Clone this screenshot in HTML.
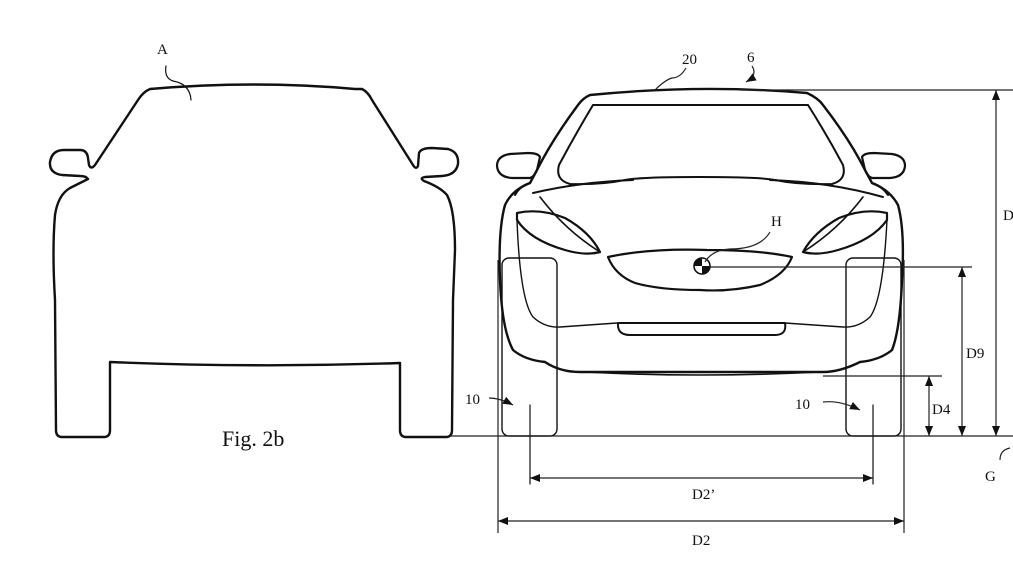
<!DOCTYPE html>
<html><head><meta charset="utf-8"><style>
html,body{margin:0;padding:0;background:#fff;}
svg{display:block;}
text{font-family:"Liberation Serif",serif;fill:#111;}
</style></head><body>
<svg width="1013" height="570" viewBox="0 0 1013 570" xmlns="http://www.w3.org/2000/svg">
<defs>
<marker id="ar" viewBox="0 0 10 10" refX="10" refY="5" markerWidth="10" markerHeight="10" markerUnits="userSpaceOnUse" orient="auto-start-reverse">
<path d="M0,1 L10,5 L0,9 z" fill="#111"/></marker>
</defs>
<g fill="none" stroke="#111" stroke-linecap="round" stroke-linejoin="round">
<path stroke-width="2.4" d="M150,89 Q255,80 355,89 L362,89 Q368,92 372,100 L413,165 Q416,170 418,166 L419,153 Q421,148 432,148 L448,149 Q459,152 458,164 Q456,175 442,176 L425,177 Q419,178 424,181 Q440,187 447,195 Q455,210 455,250 L453,300 L452,430 Q452,437 446,437 L406,437 Q400,437 400,430 L400,363 Q255,368 110,362 L110,430 Q110,437 104,437 L62,437 Q56,437 56,430 L55,300 Q52,250 55,215 Q58,195 70,188 Q82,182 88,179 Q86,176 80,176 L62,175 Q49,173 50,162 Q52,150 64,150 L80,150 Q87,150 88,158 L89,165 Q91,170 95,165 L138,100 Q143,92 150,89 Z"/>
<path stroke-width="1.2" d="M166,66 Q164,78 173,81 Q190,84 191,100"/>
<path stroke-width="2.4" d="M590,95 Q700,84 807,93 Q818,98 823,105 Q850,140 865,170 L872,183 Q890,190 898,205 Q905,230 902,280 Q900,330 892,350 Q880,360 860,362 Q840,372 823,372 L580,372 Q560,372 545,362 Q525,360 513,350 Q502,330 500,280 Q498,230 505,205 Q512,190 530,183 L537,170 Q552,140 578,105 Q583,98 590,95 Z"/>
<path stroke-width="2" d="M593,105 L808,105 M593,105 Q575,135 559,165 Q555,180 570,184 Q600,185 625,180 Q640,177 700,177 Q760,177 775,180 Q800,185 832,184 Q847,180 843,165 Q827,135 808,105"/>
<path stroke-width="2" d="M533,193 Q580,182 633,180 M770,180 Q830,182 883,197"/>
<path stroke-width="2" d="M530,183 Q520,186 515,195 M872,183 Q882,186 888,195"/>
<path stroke-width="2.2" d="M537,170 L540,157 Q538,153 528,153 L510,154 Q497,156 497,166 Q498,177 512,178 L530,178 Q534,177 537,170 Z"/>
<path stroke-width="2.2" d="M865,170 L862,157 Q864,153 874,153 L892,154 Q905,156 905,166 Q904,177 890,178 L872,178 Q868,177 865,170 Z"/>
<path stroke-width="2.2" d="M517,213 Q540,208 565,218 Q590,232 600,252 Q585,256 565,250 Q530,240 517,220 Z"/>
<path stroke-width="2.2" d="M887,213 Q864,208 839,218 Q814,232 803,252 Q818,256 838,250 Q873,240 887,220 Z"/>
<path stroke-width="1.6" d="M540,197 Q565,230 600,252 M863,197 Q838,230 803,252"/>
<path stroke-width="2.2" d="M608,257 Q650,248 707,250 Q760,250 792,257 Q785,275 760,285 Q730,292 700,290 Q660,290 635,283 Q615,275 608,257 Z"/>
<path stroke-width="1.4" d="M517,220 Q520,300 533,317 Q545,328 560,327 Q590,325 617,323 M887,220 Q883,300 870,317 Q858,328 843,327 Q813,325 785,323"/>
<path stroke-width="2" d="M618,323 L785,323 Q787,335 775,335 L630,335 Q617,335 618,323 Z"/>
<path stroke-width="1.6" d="M585,372 Q700,378 820,372"/>
<rect x="502" y="258" width="55" height="178" rx="7" stroke-width="1.4"/>
<rect x="846" y="258" width="55" height="178" rx="7" stroke-width="1.4"/>
<line x1="530" y1="405" x2="530" y2="484" stroke-width="1.2"/>
<line x1="873" y1="405" x2="873" y2="484" stroke-width="1.2"/>
<circle cx="702" cy="266" r="8" stroke-width="1.6"/>
</g>
<path d="M702,266 L702,258 A8,8 0 0 0 694,266 Z M702,266 L710,266 A8,8 0 0 1 702,274 Z" fill="#111"/>
<g fill="none" stroke="#222" stroke-width="1.2">
<line x1="740" y1="90" x2="1013" y2="90"/>
<line x1="710" y1="267" x2="972" y2="267"/>
<line x1="823" y1="376" x2="942" y2="376"/>
<line x1="450" y1="436" x2="1013" y2="436"/>
<line x1="498" y1="260" x2="498" y2="533"/>
<line x1="904" y1="260" x2="904" y2="533"/>
<line x1="996" y1="90" x2="996" y2="436" marker-start="url(#ar)" marker-end="url(#ar)"/>
<line x1="962" y1="267" x2="962" y2="436" marker-start="url(#ar)" marker-end="url(#ar)"/>
<line x1="929" y1="376" x2="929" y2="436" marker-start="url(#ar)" marker-end="url(#ar)"/>
<line x1="530" y1="478" x2="873" y2="478" marker-start="url(#ar)" marker-end="url(#ar)"/>
<line x1="498" y1="521" x2="904" y2="521" marker-start="url(#ar)" marker-end="url(#ar)"/>
<path d="M655,90 Q665,80 672,78 Q680,78 686,68"/>
<path d="M752,66 Q758,75 746,82" marker-end="url(#ar)"/>
<path d="M705,262 Q712,250 730,249 Q760,249 770,232"/>
<path d="M1010,448 Q1000,450 1000,460"/>
<path d="M489,398 Q500,398 513,405" marker-end="url(#ar)"/>
<path d="M823,402 Q840,400 860,410" marker-end="url(#ar)"/>
</g>
<g font-size="15">
<text x="157" y="54">A</text>
<text x="682" y="64">20</text>
<text x="747" y="62">6</text>
<text x="771" y="226">H</text>
<text x="1003" y="220">D</text>
<text x="966" y="358">D9</text>
<text x="932" y="414">D4</text>
<text x="985" y="481">G</text>
<text x="465" y="404">10</text>
<text x="795" y="409">10</text>
<text x="692" y="499">D2’</text>
<text x="692" y="545">D2</text>
</g>
<text x="222" y="446" font-size="22">Fig. 2b</text>
</svg>
</body></html>
